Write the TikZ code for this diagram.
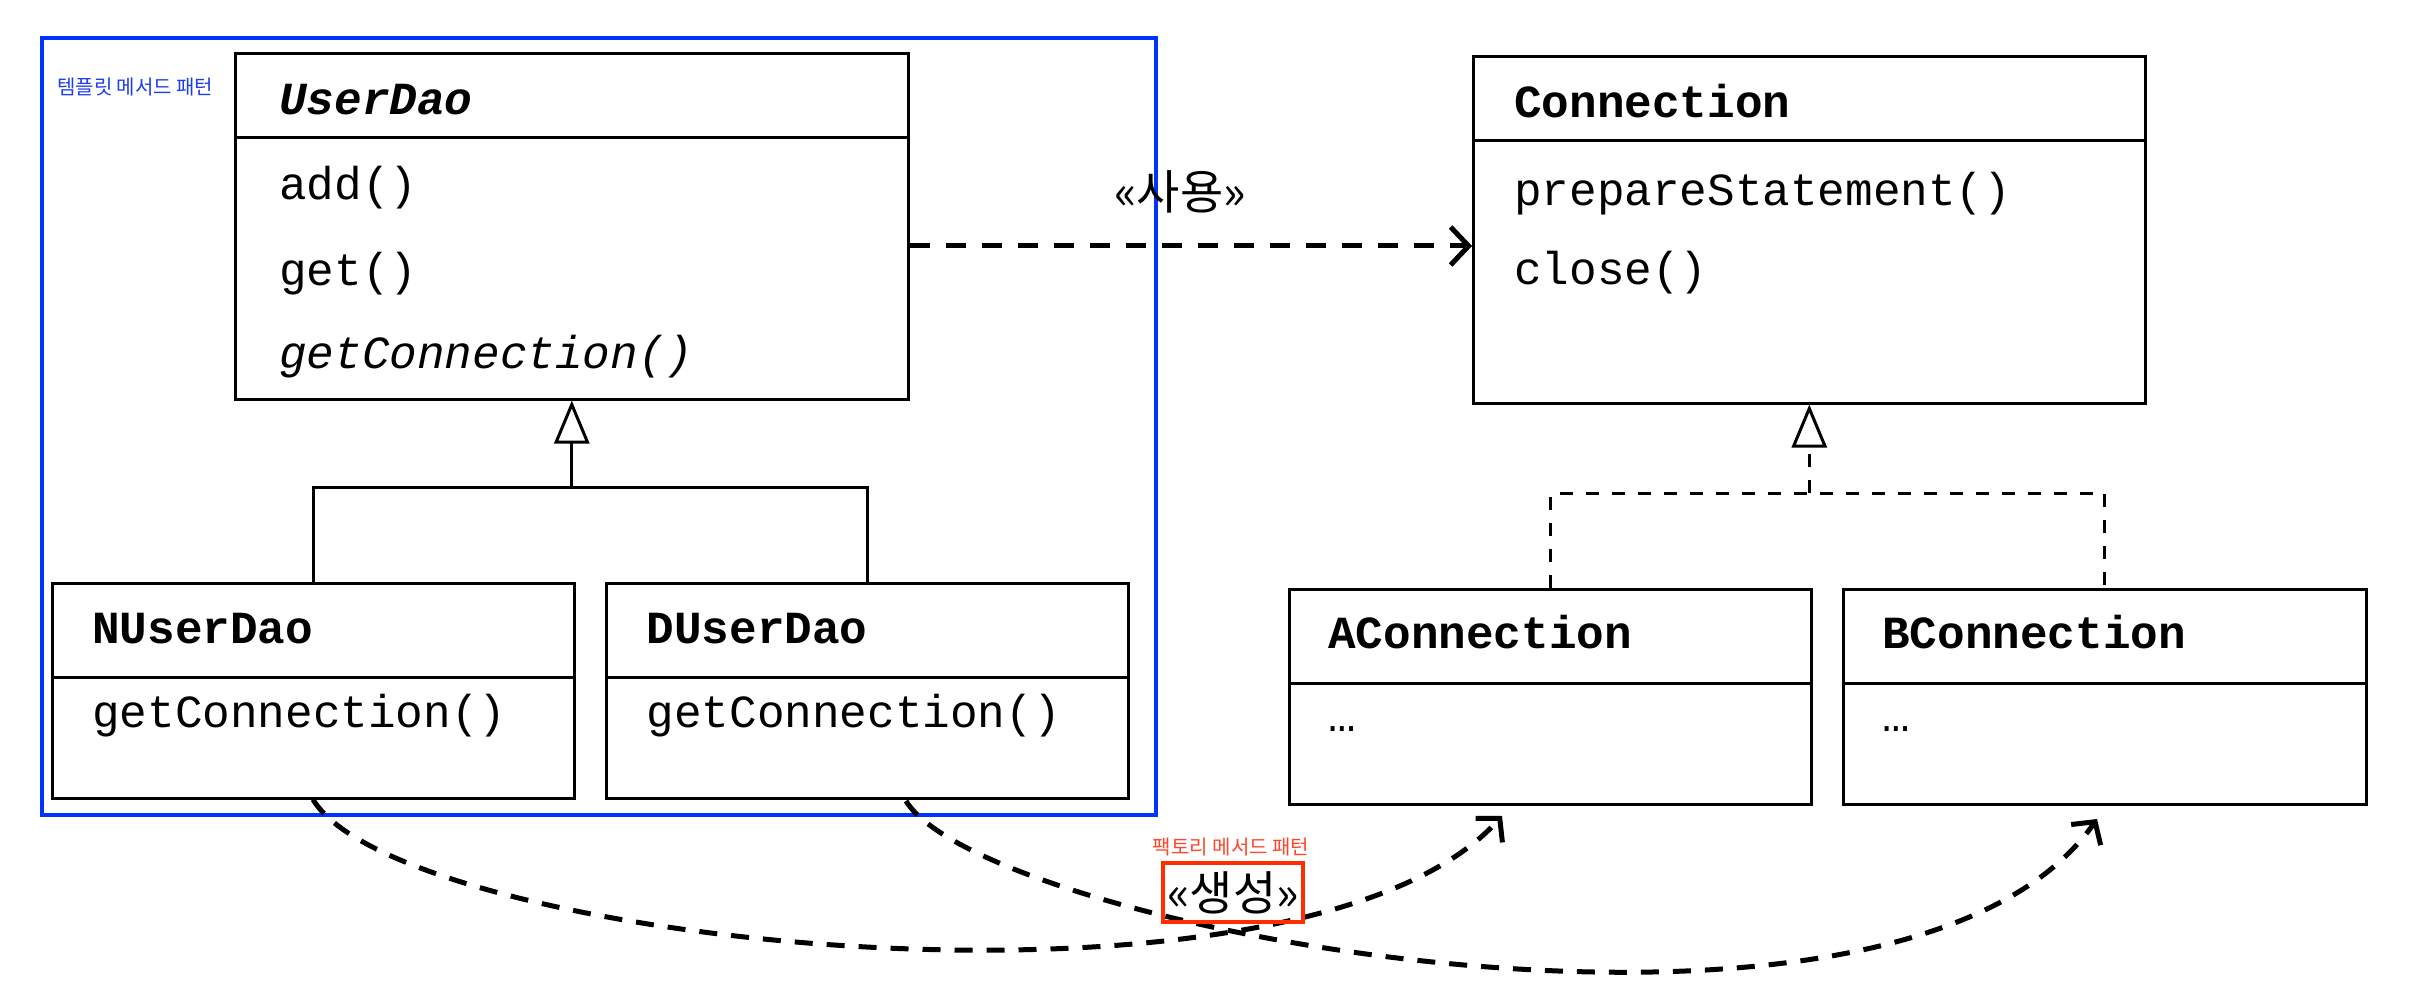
\documentclass[tikz,border=0pt]{standalone}
\usepackage{fontspec}
\setmonofont{Liberation Mono}
\newfontfamily\krfont{Noto Sans CJK KR}
\usetikzlibrary{arrows.meta,calc}
\definecolor{framecol}{RGB}{0,51,255}
\definecolor{redc}{RGB}{255,45,0}
\definecolor{rednote}{RGB}{255,70,40}
\definecolor{bluenote}{RGB}{30,60,240}
\begin{document}
\begin{tikzpicture}[x=1pt,y=-1pt,
  umlbox/.style={draw=black, line width=3pt, inner sep=0pt},
  boxline/.style={draw=black, line width=3pt},
  txt/.style={inner sep=0pt, anchor=base west, font=\ttfamily\fontsize{46}{50}\selectfont},
  ttl/.style={txt, font=\ttfamily\bfseries\fontsize{46}{50}\selectfont},
  dashinh/.style={dash pattern=on 13pt off 13pt},
  inhtip/.style={-{Triangle[open,length=43pt,width=35pt]}},
  usearrow/.style={line width=5pt, dash pattern=on 20pt off 16pt, -{Straight Barb[length=18pt,width=38pt]}},
  makearrow/.style={line width=5pt, dash pattern=on 18pt off 14pt, -{Straight Barb[length=16pt,width=36pt]}},
  krbig/.style={inner sep=0pt, font=\krfont\fontsize{47}{50}\selectfont},
  krsmall/.style={inner sep=0pt, font=\krfont\fontsize{20}{22}\selectfont}
]
\useasboundingbox (0,0) rectangle (2415,1000);
\fill[white] (0,0) rectangle (2415,1000);

% frame
\node[draw=framecol, line width=4pt, inner sep=0pt, minimum width=1114pt, minimum height=777pt] (frame) at (599,426.5) {};
\node[krsmall, text=bluenote, anchor=west] (tnote) at (57,87) {템플릿 메서드 패턴};

% UserDao
\node[umlbox, minimum width=672.4pt, minimum height=345.5pt] (user) at (571.8,226.3) {};
\draw[boxline] (user.west |- 0,138) -- (user.east |- 0,138);
\node[ttl, font=\ttfamily\bfseries\itshape\fontsize{46}{50}\selectfont] (usert) at (279,115) {UserDao};
\node[txt] (usera) at (279,200) {add()};
\node[txt] (userg) at (279,286) {get()};
\node[txt, font=\ttfamily\itshape\fontsize{46}{50}\selectfont] (userc) at (279,368.5) {getConnection()};

% Connection
\node[umlbox, minimum width=671.5pt, minimum height=346pt] (conn) at (1809.3,230) {};
\draw[boxline] (conn.west |- 0,141) -- (conn.east |- 0,141);
\node[ttl] (connt) at (1514,118) {Connection};
\node[txt] (connp) at (1514,206) {prepareStatement()};
\node[txt] (connc) at (1514,285) {close()};

% NUserDao
\node[umlbox, minimum width=522pt, minimum height=215pt] (nuser) at (313,690.5) {};
\draw[boxline] (nuser.west |- 0,677) -- (nuser.east |- 0,677);
\node[ttl] (nusert) at (92,643) {NUserDao};
\node[txt] (nuserc) at (92,727.5) {getConnection()};

% DUserDao
\node[umlbox, minimum width=522pt, minimum height=215pt] (duser) at (867.5,690.5) {};
\draw[boxline] (duser.west |- 0,677) -- (duser.east |- 0,677);
\node[ttl] (dusert) at (646.5,643) {DUserDao};
\node[txt] (duserc) at (646.5,727.5) {getConnection()};

% AConnection
\node[umlbox, minimum width=521.5pt, minimum height=215pt] (aconn) at (1550.3,696.5) {};
\draw[boxline] (aconn.west |- 0,683) -- (aconn.east |- 0,683);
\node[ttl] (aconnt) at (1328,648) {AConnection};
\node[txt] (aconnd) at (1328,731) {…};

% BConnection
\node[umlbox, minimum width=522.5pt, minimum height=215pt] (bconn) at (2104.8,696.5) {};
\draw[boxline] (bconn.west |- 0,683) -- (bconn.east |- 0,683);
\node[ttl] (bconnt) at (1882,648) {BConnection};
\node[txt] (bconnd) at (1882,731) {…};

% inheritance
\coordinate (j1) at (user.south |- 0,487);
\draw[boxline] (nuser.north) |- (j1) -| (duser.north);
\draw[boxline, inhtip] (j1) -- (user.south);

\coordinate (j2) at (conn.south |- 0,493);
\draw[boxline, dashinh] (aconn.north) |- (j2) -| (bconn.north);
\draw[boxline, dashinh, inhtip] (j2) -- (conn.south);

% use dependency
\draw[usearrow] (user.east |- 0,246) -- (conn.west |- 0,246);
\node[krbig] (uselbl) at (1180,192) {«사용»};

% create dependencies
\coordinate (ain) at (1502,816);
\coordinate (dstart) at (906,801);
\coordinate (bin) at (2097,819);
\draw[makearrow] (nuser.south) .. controls (400,945) and (1300,1040) .. (ain);
\draw[makearrow] (dstart) .. controls (985,930) and (1900,1100) .. (bin);

\node[draw=redc, line width=4pt, minimum width=140pt, minimum height=59pt, krbig] (make) at (1233,892.5) {«생성»};
\node[krsmall, text=rednote] (makenote) at (1231,847) {팩토리 메서드 패턴};
\end{tikzpicture}
\end{document}
